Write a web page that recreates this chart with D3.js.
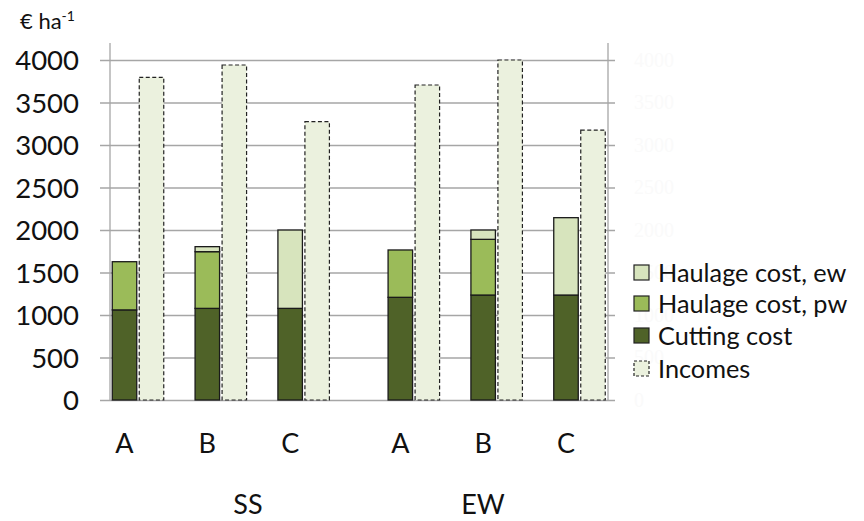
<!DOCTYPE html>
<html><head><meta charset="utf-8">
<script src="https://cdn.jsdelivr.net/npm/d3@7"></script>
<style>body{margin:0;background:#fff}svg{display:block}</style>
</head><body>
<svg id="c" width="864" height="521"></svg>
<script>
// ---- data ----
const groups = ["SS", "EW"];
const categories = ["A", "B", "C"];
const cuttingCost   = [1060, 1078, 1078, 1208, 1235, 1235];
const haulagePw     = [567, 667, 0, 557, 655, 0];
const haulageEw     = [0, 59, 922, 0, 110, 910];
const incomes       = [3796, 3941, 3274, 3706, 4000, 3176];
const yTicks        = [0, 500, 1000, 1500, 2000, 2500, 3000, 3500, 4000];
const seriesNames   = ["Haulage cost, ew", "Haulage cost, pw", "Cutting cost", "Incomes"];
const colors = {cut: "#4F6228", pw: "#9BBB59", ew: "#D7E4BD", inc: "#EBF1DE"};

const svg = d3.select("#c");
const font = "Lato, 'Open Sans', sans-serif";
const pLeft = 110, pRight = 608, pTop = 60, pBottom = 400;

const y = d3.scaleLinear().domain([0, 4000]).range([pBottom, pTop]);
// slot positions: categories within group, extra gap between groups
const slotIndex = [];
groups.forEach((g, gi) => categories.forEach((c, ci) => slotIndex.push(gi * 3.33 + ci)));
const x = d3.scaleLinear().domain([0, 5.33]).range([124.5, 566]);
const bw = 24.5;

// right axis faint labels (nearly invisible in the original)
const ra = svg.append("g").attr("transform", `translate(${pRight},0)`);
ra.call(d3.axisRight(y).tickValues(yTicks).tickSize(0).tickPadding(26).tickFormat(d3.format("d")));
ra.select(".domain").remove();
ra.selectAll("text").attr("font-family", "'Liberation Serif', serif").attr("font-size", 20).attr("fill", "#fafafa");

// gridlines + left axis ticks
const yAxis = d3.axisLeft(y).tickValues(yTicks).tickSize(0).tickPadding(8).tickFormat(d3.format("d"));
const ga = svg.append("g").attr("transform", `translate(${pLeft - 10},0)`);
ga.call(yAxis);
ga.select(".domain").remove();
ga.selectAll(".tick line").attr("x1", 0).attr("x2", pRight - pLeft + 17).attr("stroke", "#a6a6a6").attr("stroke-width", 1.3);
ga.selectAll(".tick text").attr("font-family", font).attr("font-size", 27.5).attr("fill", "#111").attr("x", -21).attr("dy", "0.36em");

// vertical axis lines
svg.append("line").attr("x1", pLeft).attr("x2", pLeft).attr("y1", 43).attr("y2", pBottom).attr("stroke", "#a6a6a6").attr("stroke-width", 1.3);
svg.append("line").attr("x1", pRight).attr("x2", pRight).attr("y1", 43).attr("y2", pBottom).attr("stroke", "#a6a6a6").attr("stroke-width", 1.3);

// stacked cost bars
const stackData = cuttingCost.map((d, i) => ({cut: d, pw: haulagePw[i], ew: haulageEw[i], i}));
const stack = d3.stack().keys(["cut", "pw", "ew"])(stackData);
stack.forEach(layer => {
  svg.append("g").selectAll("rect").data(layer.filter(d => d[1] - d[0] > 0)).join("rect")
    .attr("x", d => x(slotIndex[d.data.i]) - bw / 2)
    .attr("width", bw)
    .attr("y", d => y(d[1]))
    .attr("height", d => y(d[0]) - y(d[1]))
    .attr("fill", colors[layer.key])
    .attr("stroke", "#1a1a1a").attr("stroke-width", 1.3);
});

// income bars
svg.append("g").selectAll("rect").data(incomes).join("rect")
  .attr("x", (d, i) => x(slotIndex[i]) + bw / 2 + 2.5)
  .attr("width", bw)
  .attr("y", d => y(d))
  .attr("height", d => y(0) - y(d))
  .attr("fill", colors.inc)
  .attr("stroke", "#222").attr("stroke-width", 1.2).attr("stroke-dasharray", "4,2.5");

// category labels
svg.append("g").selectAll("text").data(slotIndex).join("text")
  .attr("x", d => x(d)).attr("y", 453)
  .attr("text-anchor", "middle").attr("font-family", font).attr("font-size", 27).attr("fill", "#111")
  .text((d, i) => categories[i % 3]);

// group labels
const groupCenters = [248, 483];
svg.append("g").selectAll("text").data(groups).join("text")
  .attr("x", (d, i) => groupCenters[i]).attr("y", 514)
  .attr("text-anchor", "middle").attr("font-family", font).attr("font-size", 27).attr("fill", "#111")
  .text(d => d);

// unit label
const ut = svg.append("text").attr("x", 20).attr("y", 29).attr("font-family", font).attr("font-size", 22).attr("fill", "#111");
ut.append("tspan").text("€ ha");
ut.append("tspan").attr("dy", -8).attr("font-size", 14).text("-1");

// legend
const legY = [273, 304, 336, 369];
const legFill = [colors.ew, colors.pw, colors.cut, colors.inc];
const lg = svg.append("g");
seriesNames.forEach((n, i) => {
  lg.append("rect").attr("x", 634).attr("y", legY[i] - 8).attr("width", 15).attr("height", 15)
    .attr("fill", legFill[i]).attr("stroke", "#222").attr("stroke-width", 1.2)
    .attr("stroke-dasharray", i === 3 ? "3,2" : null);
  lg.append("text").attr("x", 658).attr("y", legY[i]).attr("dy", "0.35em")
    .attr("font-family", font).attr("font-size", 25.3).attr("fill", "#111").text(n);
});
</script>
</body></html>
